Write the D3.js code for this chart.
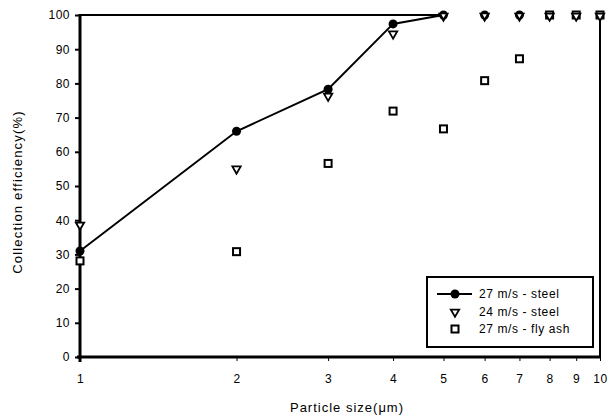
<!DOCTYPE html>
<html><head><meta charset="utf-8">
<script src="https://cdn.jsdelivr.net/npm/d3@7"></script>
<style>body{margin:0;background:#fff}svg{display:block}text{font-family:"Liberation Sans",Arial,sans-serif;fill:#000}</style>
</head><body><svg id="c" width="615" height="418"></svg>
<script>
const sizes = [1,2,3,4,5,6,7,8,9,10];
const steel27 = [31,66,78.3,97.4,100,100,100];
const steel24 = [38.9,55.3,76.6,94.8,100,100,100,100,100,100];
const flyAsh = [28.1,30.8,56.6,71.9,66.7,80.8,87.2,100,100,100];
const yTicks = [0,10,20,30,40,50,60,70,80,90,100];
const xTicks = [1,2,3,4,5,6,7,8,9,10];
const legendLabels = ["27 m/s - steel","24 m/s - steel","27 m/s - fly ash"];

const svg = d3.select("#c");
const x = d3.scaleLog().domain([1,10]).range([80,600]);
const y = d3.scaleLinear().domain([0,100]).range([357,15]);

// frame: top (partial) and right
svg.append("line").attr("x1",x(1)).attr("x2",x(5)).attr("y1",y(100)).attr("y2",y(100)).attr("stroke","#000").attr("stroke-width",2);
svg.append("line").attr("x1",x(10)).attr("x2",x(10)).attr("y1",y(100)).attr("y2",y(0)).attr("stroke","#000").attr("stroke-width",2);

// y axis
const ya = svg.append("g").attr("transform",`translate(${x(1)},0)`)
  .call(d3.axisLeft(y).tickValues(yTicks).tickSize(5).tickPadding(5));
ya.select(".domain").remove();
ya.selectAll(".tick line").attr("stroke-width",2);
ya.selectAll("text").style("font-size","12px").style("letter-spacing","0.5px");
svg.append("line").attr("x1",x(1)).attr("x2",x(1)).attr("y1",y(100)-1).attr("y2",y(0)+5).attr("stroke","#000").attr("stroke-width",3);

// x axis
const xa = svg.append("g").attr("transform",`translate(0,${y(0)})`)
  .call(d3.axisBottom(x).tickValues(xTicks).tickFormat(d3.format("d")).tickSize(4).tickPadding(13));
xa.select(".domain").remove();
xa.selectAll("text").style("font-size","12px").style("letter-spacing","0.5px");
svg.append("line").attr("x1",x(1)-3).attr("x2",x(10)+1).attr("y1",y(0)).attr("y2",y(0)).attr("stroke","#000").attr("stroke-width",3);

// axis titles
svg.append("text").attr("x",347).attr("y",412).attr("text-anchor","middle").style("font-size","13px").style("letter-spacing","1px").text("Particle size(μm)");
svg.append("text").attr("transform","translate(22,192) rotate(-90)").attr("text-anchor","middle").style("font-size","13px").style("letter-spacing","1.2px").text("Collection efficiency(%)");

// series
const tri = d3.symbol().type(d3.symbolTriangle).size(30);
function drawSquare(g, cx, cy){
  g.append("rect").attr("x",cx-3.5).attr("y",cy-3.5).attr("width",7).attr("height",7).attr("fill","#fff").attr("stroke","#000").attr("stroke-width",2);
}
function drawTri(g, cx, cy){
  g.append("path").attr("d",tri()).attr("transform",`translate(${cx},${cy}) rotate(180)`).attr("fill","#fff").attr("stroke","#000").attr("stroke-width",1.8);
}
function drawCircle(g, cx, cy){
  g.append("circle").attr("cx",cx).attr("cy",cy).attr("r",4.5).attr("fill","#000");
}
const gS = svg.append("g");
flyAsh.forEach((v,i)=>drawSquare(gS, x(sizes[i]), y(v)));
steel24.forEach((v,i)=>drawTri(gS, x(sizes[i]), y(v)+1));
const line = d3.line().x((d,i)=>x(sizes[i])).y(d=>y(d));
svg.append("path").datum(steel27.slice(0,5)).attr("d",line).attr("fill","none").attr("stroke","#000").attr("stroke-width",2);
const gC = svg.append("g");
steel27.forEach((v,i)=>drawCircle(gC, x(sizes[i]), y(v)));
steel24.forEach((v,i)=>{ if(i<steel27.length && Math.abs(steel27[i]-v)<1){
  gC.append("path").attr("d",d3.symbol().type(d3.symbolTriangle).size(8)()).attr("transform",`translate(${x(sizes[i])},${y(v)+0.5}) rotate(180)`).attr("fill","#fff");
}});

// legend
const lg = svg.append("g");
lg.append("rect").attr("x",427).attr("y",277).attr("width",166).attr("height",70).attr("fill","#fff").attr("stroke","#000").attr("stroke-width",2);
const ly = [294,312,329];
lg.append("line").attr("x1",437).attr("x2",472).attr("y1",ly[0]).attr("y2",ly[0]).attr("stroke","#000").attr("stroke-width",2);
drawCircle(lg,455,ly[0]);
drawTri(lg,455,ly[1]);
drawSquare(lg,455,ly[2]);
legendLabels.forEach((t,i)=>lg.append("text").attr("x",479).attr("y",ly[i]+4).style("font-size","12px").style("letter-spacing","0.6px").text(t));
</script></body></html>
